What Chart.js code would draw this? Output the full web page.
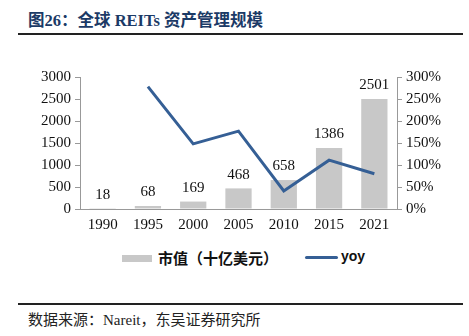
<!DOCTYPE html>
<html>
<head>
<meta charset="utf-8">
<script src="https://cdn.jsdelivr.net/npm/chart.js@4.4.0/dist/chart.umd.min.js"></script>
<style>
  body { margin:0; background:#fff; width:469px; height:336px; position:relative; overflow:hidden; }
  #title { position:absolute; left:28px; top:7px; font:bold 16.5px "Liberation Serif","Noto Sans CJK SC"; color:#1b3a66; white-space:nowrap; }
  .rule { position:absolute; left:18px; width:445px; background:#222; }
  #box { position:absolute; left:0; top:64px; width:469px; height:177px; }
  #legend { position:absolute; top:247px; left:0; width:469px; height:20px; font:bold 15px "Noto Sans CJK SC"; color:#111; }
  .sw { position:absolute; }
  .lt { position:absolute; top:0; white-space:nowrap; }
  #src { position:absolute; left:28px; top:308px; font:15px "Liberation Serif","Noto Sans CJK SC"; color:#222; white-space:nowrap; }
</style>
</head>
<body>
<div id="title">图26：全球 REITs 资产管理规模</div>
<div class="rule" style="top:33px;height:2px"></div>
<div id="box"><canvas id="myChart"></canvas></div>
<div id="legend">
  <div class="sw" style="left:122px;top:8px;width:30px;height:7px;background:#c8c8c8"></div>
  <div class="lt" style="left:158px">市值（十亿美元）</div>
  <div class="sw" style="left:305px;top:9px;width:33px;height:3px;background:#355f95;border-radius:2px"></div>
  <div class="lt" style="left:341px;top:1px;font-family:'Liberation Sans';font-size:14px">yoy</div>
</div>
<div class="rule" style="top:303px;height:1.5px"></div>
<div id="src">数据来源：Nareit，东吴证券研究所</div>
<script>
const years = ["1990", "1995", "2000", "2005", "2010", "2015", "2021"];
const marketValue = [18, 68, 169, 468, 658, 1386, 2501];
const yoy = [null, 278, 148, 177, 41, 111, 80];

const serif = "Liberation Serif";

// numbers above the bars
const barLabels = {
  id: "barLabels",
  afterDatasetsDraw(chart) {
    const ctx = chart.ctx;
    const meta = chart.getDatasetMeta(1);
    ctx.save();
    ctx.font = "15px " + serif;
    ctx.fillStyle = "#111";
    ctx.textAlign = "center";
    ctx.textBaseline = "bottom";
    meta.data.forEach((bar, i) => {
      ctx.fillText(marketValue[i], bar.x, bar.y - 6);
    });
    ctx.restore();
  }
};

new Chart("myChart", {
  type: "bar",
  data: {
    labels: years,
    datasets: [
      {
        type: "line",
        data: yoy,
        yAxisID: "y2",
        borderColor: "#355f95",
        borderWidth: 3,
        pointRadius: 0,
        tension: 0,
        order: 0
      },
      {
        type: "bar",
        data: marketValue,
        yAxisID: "y",
        backgroundColor: "#c8c8c8",
        categoryPercentage: 0.58,
        barPercentage: 1,
        order: 1
      }
    ]
  },
  options: {
    responsive: true,
    maintainAspectRatio: false,
    animation: false,
    layout: { padding: { left: 37, right: 24, top: 10, bottom: 0 } },
    plugins: { legend: { display: false }, tooltip: { enabled: false } },
    scales: {
      x: {
        grid: { display: false, drawTicks: false },
        border: { color: "#999" },
        ticks: { color: "#111", font: { family: serif, size: 15 }, padding: 7 }
      },
      y: {
        position: "left",
        min: 0, max: 3000,
        grid: { drawOnChartArea: false, tickLength: 5, color: "#999" },
        border: { color: "#999" },
        ticks: { stepSize: 500, color: "#111", font: { family: serif, size: 15 }, padding: 4,
          callback: v => String(v) }
      },
      y2: {
        position: "right",
        min: 0, max: 300,
        grid: { drawOnChartArea: false, tickLength: 5, color: "#999" },
        border: { color: "#999" },
        ticks: { stepSize: 50, color: "#111", font: { family: serif, size: 15 }, padding: 4,
          callback: v => v + "%" }
      }
    }
  },
  plugins: [barLabels]
});
</script>
</body>
</html>
